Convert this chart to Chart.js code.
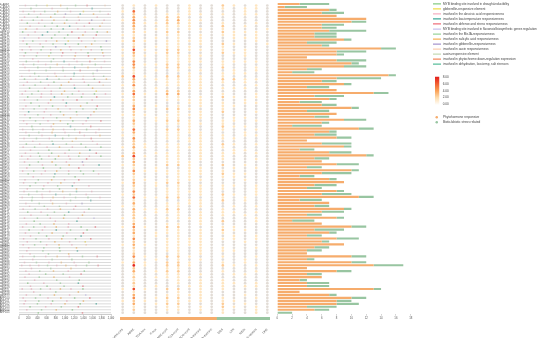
<!DOCTYPE html>
<html>
<head>
<meta charset="utf-8">
<script src="https://cdn.jsdelivr.net/npm/chart.js@4.4.0/dist/chart.umd.min.js"></script>
<style>
html, body { margin: 0; padding: 0; background: #fff; }
#wrap { position: relative; width: 550px; height: 338px; overflow: hidden; }
#wrap canvas { position: absolute; }
#legend { position: absolute; left: 0; top: 0; width: 2200px; height: 1352px; transform: scale(0.25); transform-origin: 0 0; font-family: Arial, "Liberation Sans", sans-serif; color: #444; font-size: 12.5px; }
#legend div { position: absolute; white-space: nowrap; }
</style>
</head>
<body>
<div id="wrap">
  <canvas id="promoter" width="118" height="338" style="left:0;top:0"></canvas>
  <canvas id="matrix" width="175" height="338" style="left:105px;top:0"></canvas>
  <canvas id="strip" width="150" height="3" style="left:120px;top:317px"></canvas>
  <canvas id="bars" width="145" height="338" style="left:270px;top:0"></canvas>
  <div id="legend"></div>
</div>
<script>
// genes (rows, top to bottom)
const genes = ("PvARF1 PvARF2 PvARF3 PvARF4 PvARF5 PvARF6 PvARF7 PvARF8 PvARF9 PvARF10 " +
  "PvARF11 PvARF12 PvARF13 PvARF14 PvARF15 PvARF16 PvARF17 PvARF18 PvARF19 PvARF20 " +
  "PvARF21 PvARF22 PvARF23 PvARF24 PvARF25 PvARF26 PvARF27 PvARF28 PvARF29 PvARF30 " +
  "PvARF31 PvARF32 PvARF33 PvARF34 PvARF35 PvARF36 PvARF37 PvARF38 PvARF39 PvARF40 " +
  "PvARF41 PvARF42 PvARF43 PvARF44 PvARF45 PvARF46 PvARF47 PvARF48 PvARF49 PvARF50 " +
  "PvARF51 PvARF52 PvARF53 PvARF54 PvARF55 PvARF56 PvARF57 PvARF58 PvARF59 PvARF60 " +
  "PvARF61 PvARF62 PvARF63 PvARF64 PvARF65 PvARF66 PvARF67 PvARF68 PvARF69 PvARF70 " +
  "PvARF71 PvARF72 PvARF73 PvARF74 PvARF75 PvARF76 PvARF77 PvARF78 PvARF79 PvARF80 " +
  "PvARF81 PvARF82 PvARF83 PvARF84 PvARF85 PvARF86 PvARF87 PvARF88 PvARF89 PvARF90 " +
  "PvARF91 PvARF92 PvARF93 PvARF94 PvARF95 PvARF96 PvARF97 PvARF98 PvARF99 PvARF100 " +
  "PvARF101 PvARF102 PvARF103 PvARF104 PvARF105").split(' ');

// promoter element types (legend), letter a..m
const elementTypes = [
  'MYB binding site involved in drought-inducibility',
  'gibberellin-responsive element',
  'involved in the abscisic acid responsiveness',
  'involved in low-temperature responsiveness',
  'involved in defense and stress responsiveness',
  'MYB binding site involved in flavonoid biosynthetic genes regulation',
  'involved in the MeJA-responsiveness',
  'involved in salicylic acid responsiveness',
  'involved in gibberellin-responsiveness',
  'involved in auxin responsiveness',
  'auxin-responsive element',
  'involved in phytochrome down-regulation expression',
  'involved in dehydration, low-temp, salt stresses'
];
const elementColors = ['#86cc84', '#f0dc4c', '#f6b0c2', '#3fa99b', '#ef717c', '#c9c2ee',
  '#9ad59b', '#f6b35a', '#a797cf', '#fbd0b2', '#c5dbb5', '#f48a5f', '#5bbf9c'];

// element positions (bp) + type letter, one string per gene
const promoterSites = [
  "140c 380g 610b 905h 1230a 1480e 1870j", "260a 720c 1050g 1590d",
  "90c 330c 560g 840h 1120c 1400b 1760k", "210g 470c 780a 1010i 1330d 1620h 1940c",
  "120c 400g 690h 980c 1290j 1700c", "60c 310g 500c 760h 1040g 1310c 1580i 1850c",
  "180a 430c 720g 990h 1250c 1530e 1810j", "240c 560g 830a 1100d 1420c 1760h",
  "150h 390c 700g 960m 1280c 1600a", "80a 350c 620d 870g 1150e 1440c 1700a 1920h",
  "200c 510d 780g 1060a 1390h 1680e", "120f 430c 710a 990g 1300e 1620c",
  "90c 300g 590c 820h 1070b 1360c 1650k 1900i", "170a 460c 740g 1010m 1290a 1580h",
  "230c 520g 800i 1100c 1450h 1780a", "70c 260c 480g 690c 910h 1130c 1350j 1570c 1800g",
  "140a 400c 690g 950e 1230c 1500a 1820h", "110c 380g 650b 930c 1220h 1510e 1840c",
  "300c 750g 1200c 1650h", "160a 420c 700g 980d 1260c 1540e 1860c",
  "90c 320g 580c 830h 1090c 1370g 1660a", "130c 410a 680g 950c 1210d 1500h 1790c",
  "220c 590g 960a 1330e 1700i", "340a 780c 1200d 1610g",
  "60c 240c 430g 620c 810h 1000c 1190g 1400j 1620c 1840a", "120a 360c 610d 870g 1130e 1390c 1640a 1900h",
  "180c 470g 760a 1080h 1420c 1750e", "100c 350g 640c 920h 1200c 1510a 1830j",
  "230a 560c 890g 1210d 1600h", "140c 420g 700c 990h 1300c 1680b",
  "70c 280g 490c 700c 930h 1160g 1390c 1640a 1880c", "190a 480c 770d 1060g 1360a 1690e",
  "120c 400g 690h 960c 1260e 1590c", "260a 640c 1030d 1480g",
  "150c 440g 730a 1020c 1340h 1700e", "90c 330g 590c 850h 1110c 1390g 1680a",
  "210d 550c 900g 1250a 1630h", "130c 410g 690c 970h 1260j 1560c",
  "240a 530c 820g 1120h 1500d", "100c 360g 630c 900h 1170a 1460c 1780e",
  "170c 460g 750h 1060a 1390c", "280a 700c 1120d 1560e",
  "80c 300g 520c 740h 970c 1210g 1470a 1740c", "150c 430g 720h 1000c 1320e 1670c",
  "220a 500c 790d 1080g 1420c 1760h", "110c 380g 660c 950a 1240h 1570e",
  "300c 720g 1160h 1600c", "160a 450c 740d 1030g 1350a 1700c",
  "90c 340g 610c 880h 1160c 1450g 1780a", "250c 650a 1090g 1540d",
  "140c 420g 710a 1000c 1320h 1680e", "60c 250c 450g 650c 860h 1080c 1300g 1530c 1780a",
  "190c 490g 790a 1110c 1470e", "120c 420g 720h 1030c 1380i",
  "230a 510c 800g 1090h 1400c 1740d", "170c 530a 900g 1300e",
  "80c 320g 570c 820h 1080c 1340g 1620a", "200a 490c 780d 1080g 1400a 1730c",
  "310c 760g 1220a", "130c 420g 710h 990c 1300e",
  "100c 360g 630c 910h 1200c", "240a 540c 840g 1160d 1520c",
  "180c 520g 880a 1250h", "110c 390g 670c 950h 1250m 1580c",
  "210a 500c 800d 1110g 1460c", "70c 290g 510c 740h 980c 1230g 1500a 1760c",
  "280a 690c 1120g 1560d", "150c 440g 730h 1030c 1370i",
  "230c 550a 880g 1230e", "90c 350g 620c 900h 1190c 1520a",
  "190a 480c 770g 1080d 1420c", "260c 620g 990a 1380h",
  "120c 400g 680c 970h 1290c 1630f", "330a 790c 1260d",
  "160c 460g 760h 1080c", "80c 320g 560c 810h 1070c 1350a 1660e",
  "220a 510c 810d 1120g 1480a", "140c 430g 720h 1040c 1400e",
  "250c 600a 960g 1350d", "100c 370g 650c 930h 1230a 1560e",
  "180c 470g 780h 1100c 1440b", "90c 340g 600c 870h 1150c 1460j",
  "210c 540g 880a 1250h", "170c 520g 890a 1270d",
  "240c 640g 1080h", "80c 330g 580c 830h 1090c 1380a 1700e",
  "300c 720g 1150a", "120c 380g 650c 920h 1200c 1520a",
  "60c 240c 430c 620g 820c 1020h 1240c 1470a 1720e", "270c 690g 1130h",
  "150c 450g 750h 1070c 1420a", "220c 580a 960g 1350e",
  "130c 440g 760h 1100c", "340c 820g 1310a",
  "190a 540c 900g 1290d", "250c 610a 980g 1390e",
  "70c 270c 470g 680c 900h 1130c 1390a", "320c 800g 1290h",
  "160c 460g 770h 1100c 1450f", "90c 360g 630c 910h 1210a 1540e",
  "140c 430g 730a 1040c 1400h", "110c 400g 700c 1000h 1330a 1680d",
  "240a 580c 920g 1290e", "170c 490g 810h 1160a",
  "420a 1380e"
];

// cis-element columns of the dot matrix
const cisElements = ['AuxRR-core', 'ABRE', 'TGA-box', 'P-box', 'GARE-motif', 'CGTCA-motif',
  'TGACG-motif', 'TCA-element', 'TGA-element', 'MBS', 'LTR', 'MBSI', 'TC-rich repeats', 'DRE'];
const groupNames = ['Phytohormone responsive', 'Biotic/abiotic stress related'];
const groupSizes = [9, 5];
const groupColors = ['#f6ac6c', '#98c5a1'];

// counts per gene: 9 phytohormone digits, 5 stress digits
const cisCounts = [
  "010100100 21010", "000000100 10110", "150000100 00100", "020011110 10110", "031022000 00000",
  "140023110 00000", "031122100 10010", "030011100 20100", "020110110 10001", "021022000 21110",
  "110011010 11010", "020101010 01110", "131011110 00010", "010011010 21001", "020111100 10000",
  "161022110 10100", "030122000 21100", "121011110 00100", "010011100 00000", "040011110 11110",
  "041122000 10000", "130022100 20010", "010101010 01010", "010000100 11100", "261022110 10000",
  "030111110 22110", "020011110 10100", "140011110 00010", "010100110 11100", "030122000 00000",
  "151033000 10010", "020011010 21010", "120011110 00100", "010000110 10110", "030101010 11000",
  "041022100 10000", "020001010 20010", "121011110 00000", "010111010 01100", "030122100 11010",
  "020011110 10000", "010000100 21100", "150022100 10010", "030011110 00100", "110011010 10110",
  "040011110 11000", "020000110 00000", "021011010 21010", "131011110 10000", "010001010 01100",
  "030111010 11010", "261011010 10000", "020011010 10010", "030011100 00000", "120022100 20100",
  "010100110 01010", "041111110 10000", "020011110 21100", "010001100 11000", "021011110 00100",
  "130122000 00000", "020101010 11010", "010011010 10010", "040011110 00010", "120011010 21010",
  "051122000 10100", "010000110 20100", "030011110 00000", "110011010 01010", "031122000 10000",
  "020111010 11010", "020001010 10100", "121011110 00010", "010000010 20010", "030011010 00000",
  "141022000 11000", "020011010 21100", "030111010 10000", "010101010 01010", "040011110 11010",
  "020011110 00100", "131011110 00000", "020011010 10010", "010011010 11000", "020001010 00000",
  "041022100 10010", "010101010 00100", "131022100 10100", "071022100 21010", "020011000 00000",
  "030122000 10010", "010011010 01100", "020111100 00000", "010001010 10000", "020001010 11010",
  "010100110 10110", "161022010 10000", "010001010 00000", "030011110 00100", "040122010 10010",
  "121011110 11000", "030122000 20100", "010011010 21010", "020011010 10010", "000000000 10010"
];

// stacked bar values per gene
const phytoCounts = [3, 1, 7, 6, 8, 12, 10, 6, 6, 7, 5, 5, 9, 4, 6, 14, 8, 8, 4, 8, 10, 9, 4, 2, 15, 8,
  6, 9, 4, 8, 13, 5, 7, 3, 6, 10, 4, 8, 5, 9, 6, 2, 11, 7, 5, 8, 4, 6, 9, 3, 7, 12, 5, 6, 8, 4, 10, 6, 3, 7,
  9, 5, 4, 8, 6, 11, 3, 7, 5, 9, 6, 4, 8, 2, 6, 10, 5, 7, 4, 8, 6, 9, 5,
  4, 4, 10, 4, 10, 13, 4, 8, 4, 6, 3, 4, 4, 13, 3, 7, 10, 8, 8, 4, 5, 0];
const stressCounts = [4, 3, 1, 3, 0, 0, 2, 3, 2, 5, 3, 3, 1, 4, 1, 2, 4, 1, 0, 4, 1, 3, 2, 3, 1, 6,
  2, 1, 3, 0, 2, 4, 1, 3, 2, 1, 3, 0, 2, 3, 1, 4, 2, 1, 3, 2, 0, 4, 1, 2, 3, 1, 2, 0, 3, 2, 1, 4, 2, 1,
  0, 3, 2, 1, 4, 2, 3, 0, 2, 1, 3, 2, 1, 3, 0, 2, 4, 1, 2, 3, 1, 0, 2,
  2, 0, 2, 1, 2, 4, 0, 2, 2, 0, 1, 3, 3, 1, 0, 1, 2, 2, 3, 4, 2, 2];

const heatTicks = ['8.00', '6.00', '4.00', '2.00', '0.00'];
const heatStops = [[0, [255, 255, 255]], [2, [254, 222, 176]], [4, [250, 162, 88]], [6, [242, 96, 50]], [8, [226, 28, 28]]];

const FONT = 'Arial, "Liberation Sans", sans-serif';
const N = genes.length;
const AREA_TOP = 2.5, AXIS_H = 338 - 314.2;

function heatColor(v) {
  for (let i = 1; i < heatStops.length; i++) {
    const [v1, c1] = heatStops[i];
    const [v0, c0] = heatStops[i - 1];
    if (v <= v1) {
      const t = (v - v0) / (v1 - v0);
      const c = c0.map((a, k) => Math.round(a + (c1[k] - a) * t));
      return `rgb(${c[0]},${c[1]},${c[2]})`;
    }
  }
  return 'rgb(226,28,28)';
}
// empty cells keep a light grey disc so every column stays visible
function cellColor(v) {
  return v === 0 ? '#e2dcd6' : heatColor(v + 0.6);
}

function fixSize(px) {
  return s => { if (s.isHorizontal()) s.height = px; else s.width = px; };
}
function integerTicks(labels) {
  return s => { s.ticks = labels.map((l, i) => ({ value: i })); };
}

Chart.defaults.font.family = FONT;
Chart.defaults.animation = false;
Chart.defaults.plugins.legend.display = false;
Chart.defaults.plugins.tooltip.enabled = false;

// ---------- promoter diagram ----------
const promoterSets = [];
genes.forEach((g, i) => {
  promoterSets.push({
    data: [{ x: 0, y: i }, { x: 2000, y: i }],
    showLine: true, borderColor: '#cccccc', borderWidth: 0.7, pointRadius: 0
  });
});
elementTypes.forEach((name, t) => {
  const pts = [];
  promoterSites.forEach((row, i) => {
    row.split(' ').forEach(tok => {
      if (tok.charCodeAt(tok.length - 1) - 97 === t) pts.push({ x: parseInt(tok), y: i });
    });
  });
  promoterSets.push({
    label: name, data: pts, showLine: false,
    pointStyle: 'rect', pointRadius: 1.05, pointBorderWidth: 0,
    pointBackgroundColor: elementColors[t]
  });
});

new Chart(document.getElementById('promoter'), {
  type: 'scatter',
  data: { datasets: promoterSets },
  options: {
    responsive: false,
    layout: { padding: { top: AREA_TOP, right: 7, left: 0, bottom: 0 } },
    scales: {
      x: {
        min: 0, max: 2000, afterFit: fixSize(AXIS_H),
        ticks: { stepSize: 200, font: { size: 2.6 }, color: '#555', padding: 0.6, maxRotation: 0, autoSkip: false },
        grid: { drawOnChartArea: false, tickLength: 1.5, color: '#999', lineWidth: 0.5 },
        border: { color: '#999', width: 0.5 }
      },
      y: {
        min: -0.5, max: N - 0.5, reverse: true, afterFit: fixSize(19),
        afterBuildTicks: integerTicks(genes),
        ticks: {
          autoSkip: false, font: { size: 2.7 }, color: '#555', padding: 1.5,
          callback: v => genes[v]
        },
        grid: { display: false }, border: { display: false }
      }
    }
  }
});

// ---------- dot matrix ----------
const cells = [];
cisCounts.forEach((row, r) => {
  const digits = row.replace(' ', '');
  for (let c = 0; c < cisElements.length; c++) cells.push({ x: c, y: r, v: +digits[c] });
});

new Chart(document.getElementById('matrix'), {
  type: 'scatter',
  data: {
    datasets: [{
      data: cells,
      pointRadius: 1.35,
      pointBorderWidth: 0,
      pointBackgroundColor: ctx => cellColor(ctx.raw ? ctx.raw.v : 0)
    }]
  },
  options: {
    responsive: false,
    layout: { padding: { top: AREA_TOP, left: 12.1, right: 7.1, bottom: 0 } },
    scales: {
      x: {
        min: -0.5, max: cisElements.length - 0.5, afterFit: fixSize(AXIS_H),
        afterBuildTicks: integerTicks(cisElements),
        ticks: {
          autoSkip: false, minRotation: 45, maxRotation: 45,
          font: { size: 3 }, color: '#555', padding: 5.5,
          callback: v => cisElements[v]
        },
        grid: { display: false }, border: { display: false }
      },
      y: { display: false, min: -0.5, max: N - 0.5, reverse: true }
    }
  }
});

// group strip under the matrix
new Chart(document.getElementById('strip'), {
  type: 'bar',
  data: {
    labels: [''],
    datasets: groupNames.map((g, i) => ({ label: g, data: [groupSizes[i]], backgroundColor: groupColors[i] }))
  },
  options: {
    responsive: false, indexAxis: 'y',
    datasets: { bar: { barPercentage: 1, categoryPercentage: 1 } },
    scales: {
      x: { display: false, stacked: true, min: 0, max: groupSizes[0] + groupSizes[1] },
      y: { display: false, stacked: true }
    }
  }
});

// ---------- stacked bars ----------
new Chart(document.getElementById('bars'), {
  type: 'bar',
  data: {
    labels: genes,
    datasets: [
      { label: groupNames[0], data: phytoCounts, backgroundColor: groupColors[0] },
      { label: groupNames[1], data: stressCounts, backgroundColor: groupColors[1] }
    ]
  },
  options: {
    responsive: false, indexAxis: 'y',
    datasets: { bar: { barPercentage: 0.72, categoryPercentage: 1 } },
    layout: { padding: { top: AREA_TOP, left: 7.3, right: 4.3, bottom: 0 } },
    scales: {
      x: {
        stacked: true, min: 0, max: 18, afterFit: fixSize(AXIS_H),
        ticks: { stepSize: 2, font: { size: 2.8 }, color: '#555', padding: 0.8, maxRotation: 0 },
        grid: { drawOnChartArea: false, tickLength: 1.5, color: '#aaa', lineWidth: 0.5 },
        border: { display: false }
      },
      y: { stacked: true, display: false }
    }
  }
});

// ---------- legends (drawn at 4x, scaled down) ----------
const legend = document.getElementById('legend');
function put(html, x, y, style) {
  const d = document.createElement('div');
  d.innerHTML = html;
  d.style.left = (x * 4) + 'px';
  d.style.top = (y * 4) + 'px';
  if (style) Object.assign(d.style, style);
  legend.appendChild(d);
  return d;
}
elementTypes.forEach((name, i) => {
  const y = 3.6 + i * 5.03;
  put('', 433, y - 0.35, { width: '32px', height: '5px', background: elementColors[i] });
  put(name, 443, y - 2.1, { lineHeight: '16px' });
});
put('', 435, 76.7, { width: '17px', height: '113px',
  background: 'linear-gradient(to top,' + heatStops.map(s => heatColor(s[0]) + ' ' + (s[0] / 8 * 100) + '%').join(',') + ')' });
heatTicks.forEach((t, i) => put(t, 442.7, 77.3 + i * 6.6 - 2, { lineHeight: '16px' }));
groupNames.forEach((g, i) => {
  const y = 117.3 + i * 5;
  put('', 435.5, y - 1.2, { width: '10px', height: '10px', borderRadius: '5px', background: groupColors[i] });
  put(g, 443, y - 2, { lineHeight: '16px' });
});
</script>
</body>
</html>
